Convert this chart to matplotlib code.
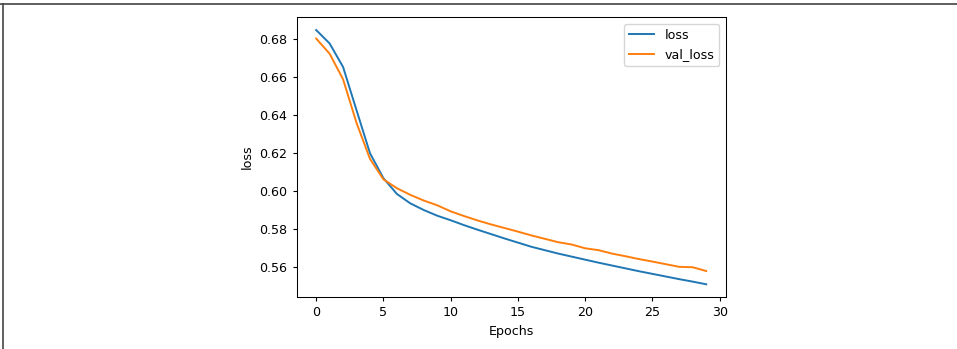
import matplotlib
matplotlib.use("Agg")
import matplotlib.pyplot as plt
from matplotlib.lines import Line2D

epochs = list(range(30))
loss = [0.6850, 0.6779, 0.6655, 0.6427, 0.6200, 0.6068, 0.5985, 0.5935, 0.5900, 0.5870,
        0.5846, 0.5820, 0.5796, 0.5773, 0.5750, 0.5728, 0.5706, 0.5688, 0.5670, 0.5654,
        0.5638, 0.5622, 0.5607, 0.5592, 0.5577, 0.5563, 0.5549, 0.5535, 0.5522, 0.5508]
val_loss = [0.6805, 0.6725, 0.6590, 0.6360, 0.6170, 0.6062, 0.6015, 0.5980, 0.5950, 0.5925,
            0.5893, 0.5868, 0.5845, 0.5824, 0.5805, 0.5786, 0.5766, 0.5748, 0.5730, 0.5718,
            0.5698, 0.5688, 0.5670, 0.5656, 0.5641, 0.5628, 0.5614, 0.5600, 0.5598, 0.5578]

fs = 9.1
plt.rcParams['font.size'] = fs
plt.rcParams['xtick.major.size'] = 3.2
plt.rcParams['ytick.major.size'] = 3.2
plt.rcParams['axes.linewidth'] = 0.75

fig = plt.figure(figsize=(9.57, 3.49), dpi=100)
ax = fig.add_axes([0.310, 0.149, 0.4483, 0.8014])
ax.plot(epochs, loss, color='#1f77b4', lw=1.4, label='loss')
ax.plot(epochs, val_loss, color='#ff7f0e', lw=1.4, label='val_loss')
ax.set_xlabel('Epochs', fontsize=fs)
ax.set_ylabel('loss', fontsize=fs)
ax.set_xticks([0, 5, 10, 15, 20, 25, 30])
ax.set_yticks([0.56, 0.58, 0.60, 0.62, 0.64, 0.66, 0.68])
ax.tick_params(labelsize=fs)
ax.legend(loc='upper right', fontsize=fs)

# screenshot frame (top and left edges)
fig.add_artist(Line2D([0.0, 1.0], [1 - 3.5/349, 1 - 3.5/349], transform=fig.transFigure,
                      color='#444444', lw=1.2))
fig.add_artist(Line2D([2.5/957, 2.5/957], [0.0, 1 - 3.5/349], transform=fig.transFigure,
                      color='#444444', lw=1.2))

fig.savefig('out.png', dpi=100)
